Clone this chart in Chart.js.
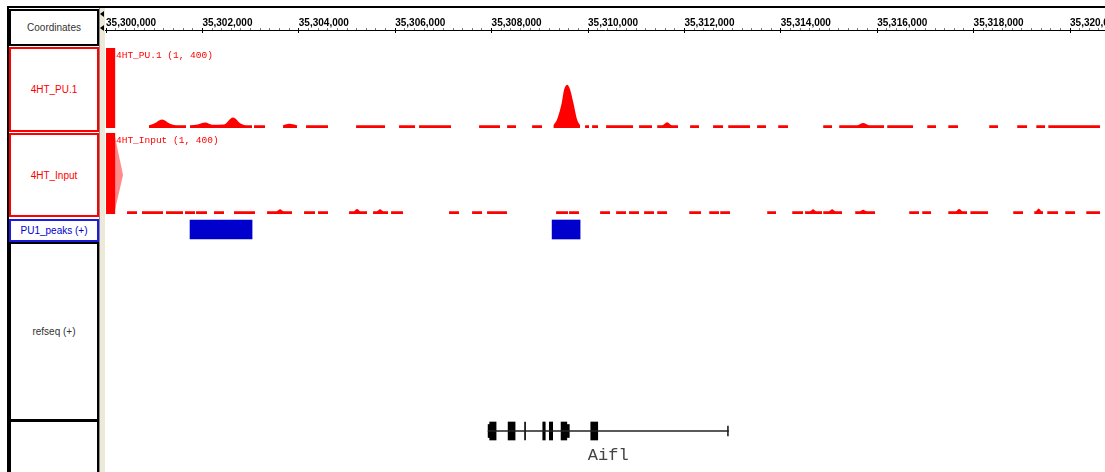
<!DOCTYPE html>
<html>
<head>
<meta charset="utf-8">
<script src="https://cdn.jsdelivr.net/npm/chart.js@4.4.0/dist/chart.umd.min.js"></script>
<style>
  html, body { margin: 0; padding: 0; background: #fff; }
  body { width: 1105px; height: 472px; position: relative; overflow: hidden;
         font-family: "Liberation Sans", Arial, sans-serif; }
  .abs { position: absolute; }
  .topline { left: 7px; top: 6px; width: 1098px; height: 2px; background: #000; }
  .leftline { left: 7px; top: 6px; width: 2px; height: 466px; background: #000; }
  .name { position: absolute; left: 9px; width: 90px; box-sizing: border-box;
          border: 2px solid #000; display: flex; align-items: center;
          justify-content: center; font-size: 10px; background: #fff; }
  .red { border-color: #ff0000; color: #ff0000; }
  .blue { border-color: #1a1ae0; color: #0000cc; }
  .dark { color: #333; }
  .strip { left: 99px; top: 8px; width: 6px; height: 464px; background: #ece9d8;
           border-left: 1px solid #8c8c8c; box-sizing: border-box; }
  .arrow { width: 0; height: 0; border-top: 3px solid transparent;
           border-bottom: 3px solid transparent; border-right: 4px solid #000; }
  canvas { position: absolute; left: 105px; }
</style>
</head>
<body>
<div class="abs topline"></div>
<div class="abs leftline"></div>

<div class="name dark" style="top:9px;height:37px;">Coordinates</div>
<div class="name red" style="top:47px;height:85px;">4HT_PU.1</div>
<div class="name red" style="top:133px;height:84px;">4HT_Input</div>
<div class="name blue" style="top:219px;height:23px;">PU1_peaks (+)</div>
<div class="name dark" style="top:242px;height:179px;">refseq (+)</div>
<div class="name dark" style="top:420px;height:60px;"></div>

<div class="abs strip"></div>
<div class="abs arrow" style="left:100px;top:11px;"></div>
<div class="abs arrow" style="left:100px;top:25px;"></div>

<canvas id="ruler" width="1000" height="25" style="top:8px;"></canvas>
<canvas id="pu1" width="1000" height="80" style="top:48px;"></canvas>
<canvas id="input" width="1000" height="81" style="top:133px;"></canvas>
<canvas id="peaks" width="1000" height="21" style="top:219px;"></canvas>
<canvas id="gene" width="1000" height="61" style="top:411px;"></canvas>

<script>
/* global Chart */

// visible window (bp)
const X_MIN = 35299979;
const X_MAX = 35320726;

// ruler
const rulerLabels = [35300000, 35302000, 35304000, 35306000, 35308000, 35310000,
                     35312000, 35314000, 35316000, 35318000, 35320000];
const RULER_MINOR = 200;

// coverage tracks, data range shown in the track title
const dataRange = [1, 400];

// 4HT_PU.1 coverage, null = no data
const pu1Pos = [
    35300000, 35300195, null,
    35300892, 35301000, 35301162, 35301330, 35301450, 35301660, null,
    35301743, 35301900, 35302054, 35302200, 35302450, 35302635, 35302800, 35302900, 35303030, null,
    35303071, 35303299, null,
    35303673, 35303800, 35303963, null,
    35304150, 35304607, null,
    35305188, 35305789, null,
    35306080, 35306412, null,
    35306495, 35307159, null,
    35307740, 35308176, null,
    35308321, 35308508, null,
    35308840, 35309047, null,
    35309281, 35309358, 35309456, 35309504, 35309572, 35309628, 35309696, 35309773, 35309836, null,
    35309939, 35310022, null,
    35310085, 35310209, null,
    35310375, 35310935, null,
    35311060, 35311330, null,
    35311434, 35311540, 35311641, 35311740, 35311870, null,
    35312118, 35312305, null,
    35312595, 35312803, null,
    35312907, 35313363, null,
    35313508, 35313695, null,
    35313944, 35314152, null,
    35314878, 35315065, null,
    35315210, 35315590, 35315708, 35315830, 35316144, null,
    35316206, 35316745, null,
    35317036, 35317223, null,
    35317472, 35317679, null,
    35318322, 35318509, null,
    35318903, 35319111, null,
    35319298, 35319485, null,
    35319547, 35320626
];
const pu1Val = [
    400, 400, null,
    15, 24, 44, 22, 15, 15, null,
    15, 18, 28, 17, 19, 53, 22, 15, 15, null,
    15, 15, null,
    15, 22, 15, null,
    15, 15, null,
    15, 15, null,
    15, 15, null,
    15, 15, null,
    15, 15, null,
    15, 15, null,
    15, 15, null,
    15, 44, 127, 193, 217, 193, 127, 44, 15, null,
    15, 15, null,
    15, 15, null,
    15, 15, null,
    15, 15, null,
    15, 15, 30, 15, 15, null,
    15, 15, null,
    15, 15, null,
    15, 15, null,
    15, 15, null,
    15, 15, null,
    15, 15, null,
    15, 15, 26, 15, 15, null,
    15, 15, null,
    15, 15, null,
    15, 15, null,
    15, 15, null,
    15, 15, null,
    15, 15, null,
    15, 15
];

// 4HT_Input coverage
const inputPos = [
    35300000, 35300195, null,
    35300436, 35300643, null,
    35300747, 35301183, null,
    35301245, 35301598, null,
    35301639, 35301847, null,
    35301868, 35302096, null,
    35302241, 35302449, null,
    35302656, 35303092, null,
    35303341, 35303540, 35303611, 35303680, 35303860, null,
    35304109, 35304337, null,
    35304399, 35304607, null,
    35305042, 35305140, 35305208, 35305280, 35305416, null,
    35305540, 35305620, 35305686, 35305750, 35305852, null,
    35305914, 35306163, null,
    35307117, 35307325, null,
    35307595, 35307802, null,
    35307906, 35308321, null,
    35309338, 35309587, null,
    35309607, 35309815, null,
    35310251, 35310458, null,
    35310583, 35310790, null,
    35310852, 35311060, null,
    35311164, 35311371, null,
    35311434, 35311641, null,
    35312098, 35312346, null,
    35312513, 35312720, null,
    35312741, 35312948, null,
    35313716, 35313903, null,
    35314235, 35314463, null,
    35314504, 35314610, 35314670, 35314730, 35314857, null,
    35314878, 35315000, 35315065, 35315130, 35315272, null,
    35315542, 35315640, 35315708, 35315780, 35315957, null,
    35316662, 35316870, null,
    35316932, 35317119, null,
    35317472, 35317630, 35317700, 35317770, 35317866, null,
    35317930, 35318301, null,
    35318820, 35319028, null,
    35319256, 35319290, 35319350, 35319410, 35319443, null,
    35319526, 35319754, null,
    35319899, 35320107, null,
    35320335, 35320626
];
const inputVal = [
    400, 400, null,
    15, 15, null,
    15, 15, null,
    15, 15, null,
    15, 15, null,
    15, 15, null,
    15, 15, null,
    15, 15, null,
    15, 15, 24, 15, 15, null,
    15, 15, null,
    15, 15, null,
    15, 15, 26, 15, 15, null,
    15, 15, 24, 15, 15, null,
    15, 15, null,
    15, 15, null,
    15, 15, null,
    15, 15, null,
    15, 15, null,
    15, 15, null,
    15, 15, null,
    15, 15, null,
    15, 15, null,
    15, 15, null,
    15, 15, null,
    15, 15, null,
    15, 15, null,
    15, 15, null,
    15, 15, null,
    15, 15, null,
    15, 15, 24, 15, 15, null,
    15, 15, 24, 15, 15, null,
    15, 15, 22, 15, 15, null,
    15, 15, null,
    15, 15, null,
    15, 15, 26, 15, 15, null,
    15, 15, null,
    15, 15, null,
    15, 15, 28, 15, 15, null,
    15, 15, null,
    15, 15, null,
    15, 15
];
// faded wedge next to the clipped input bar
const inputShadePos = [35300187, 35300353, 35300187];
const inputShadeVal = [380, 193, 21];

// PU1_peaks (+)
const peakStart = [35301743, 35309255];
const peakEnd = [35303030, 35309836];

// refseq (+)
const geneName = "Aifl";
const geneSpan = [35307927, 35312913];
const exonStart = [35307960, 35308342, 35308684, 35309061, 35309198, 35309441, 35310057];
const exonEnd = [35308093, 35308487, 35308704, 35309113, 35309267, 35309560, 35310202];
const utrStart = [35307927, 35309560];
const utrEnd = [35307960, 35309612];
const geneEndMark = [35312893, 35312913];

Chart.defaults.font.family = "'Liberation Sans', Arial, sans-serif";

function toPoints(pos, val)
{
    const pts = [];
    let last = X_MIN;
    for (let i = 0; i < pos.length; i++)
    {
        if (pos[i] === null)
        {
            pts.push({ x: last + 1, y: null });
        }
        else
        {
            pts.push({ x: pos[i], y: val[i] });
            last = pos[i];
        }
    }
    return pts;
}

function hiddenX()
{
    return { type: "linear", min: X_MIN, max: X_MAX, bounds: "data", display: false };
}

const baseOptions = {
    responsive: false,
    animation: false,
    events: [],
    layout: { padding: 0, autoPadding: false },
    plugins: { legend: { display: false }, tooltip: { enabled: false } }
};

const trackTitle = {
    id: "trackTitle",
    afterDraw(chart, args, opts)
    {
        const { ctx, chartArea } = chart;
        const y = chart.scales.y;
        ctx.save();
        ctx.font = "9.5px 'Liberation Mono', monospace";
        ctx.fillStyle = "#ff0000";
        ctx.textBaseline = "middle";
        ctx.fillText(opts.text + " (" + y.min + ", " + y.max + ")",
            chartArea.left + 11, chartArea.top + 7);
        ctx.restore();
    }
};

const geneLabel = {
    id: "geneLabel",
    afterDraw(chart, args, opts)
    {
        const { ctx, chartArea } = chart;
        const cx = chart.scales.x.getPixelForValue((geneSpan[0] + geneSpan[1]) / 2);
        ctx.save();
        ctx.font = "17px 'Liberation Mono', monospace";
        ctx.fillStyle = "#444";
        ctx.textAlign = "center";
        ctx.textBaseline = "middle";
        ctx.fillText(opts.text, cx, chartArea.bottom + 4);
        ctx.restore();
    }
};

const isMajor = (v) => rulerLabels.includes(v);

// ruler
new Chart(document.getElementById("ruler"), {
    type: "line",
    data: { datasets: [] },
    options: {
        ...baseOptions,
        scales: {
            x: {
                type: "linear",
                position: "top",
                min: X_MIN,
                max: X_MAX,
                bounds: "data",
                afterBuildTicks: (scale) =>
                {
                    const ticks = [];
                    for (let v = rulerLabels[0]; v <= X_MAX; v += RULER_MINOR)
                    {
                        ticks.push({ value: v });
                    }
                    scale.ticks = ticks;
                },
                afterFit: (scale) => { scale.height = 22; },
                ticks: {
                    autoSkip: false,
                    minRotation: 0,
                    maxRotation: 0,
                    align: "start",
                    padding: 0,
                    color: "#000",
                    font: { size: 10, weight: "bold", lineHeight: 1 },
                    callback: (v) => isMajor(v) ? v.toLocaleString("en-US") : ""
                },
                grid: {
                    drawOnChartArea: true,
                    tickLength: 2,
                    tickColor: (ctx) => ctx.tick && isMajor(ctx.tick.value) ? "#000" : "#777",
                    color: (ctx) => ctx.tick && isMajor(ctx.tick.value) ? "#000" : "rgba(0,0,0,0)"
                },
                border: { display: true, color: "#000", width: 1 }
            },
            y: { display: false }
        }
    }
});

function coverageChart(id, name, pos, val, extra)
{
    return new Chart(document.getElementById(id), {
        type: "line",
        data: {
            datasets: [{
                data: toPoints(pos, val),
                backgroundColor: "#ff0000",
                borderWidth: 0,
                pointRadius: 0,
                fill: "origin",
                spanGaps: false,
                cubicInterpolationMode: "monotone"
            }].concat(extra || [])
        },
        options: {
            ...baseOptions,
            plugins: { ...baseOptions.plugins, trackTitle: { text: name } },
            scales: {
                x: hiddenX(),
                y: { min: dataRange[0], max: dataRange[1], display: false }
            }
        },
        plugins: [trackTitle]
    });
}

coverageChart("pu1", "4HT_PU.1", pu1Pos, pu1Val);

coverageChart("input", "4HT_Input", inputPos, inputVal, [{
    data: toPoints(inputShadePos, inputShadeVal),
    backgroundColor: "#ff8c8c",
    borderWidth: 0,
    pointRadius: 0,
    fill: "shape",
    order: 1
}]);

// peaks
new Chart(document.getElementById("peaks"), {
    type: "bar",
    data: {
        labels: ["PU1_peaks"],
        datasets: [{
            data: peakStart.map((s, i) => ({ x: [s, peakEnd[i]], y: "PU1_peaks" })),
            backgroundColor: "#0000cc",
            borderWidth: 0,
            barThickness: 19
        }]
    },
    options: {
        ...baseOptions,
        indexAxis: "y",
        scales: { x: hiddenX(), y: { display: false } }
    }
});

// gene model
function geneBars(starts, ends, thickness, color)
{
    return {
        data: starts.map((s, i) => ({ x: [s, ends[i]], y: geneName })),
        backgroundColor: color,
        borderWidth: 0,
        barThickness: thickness,
        grouped: false
    };
}

new Chart(document.getElementById("gene"), {
    type: "bar",
    data: {
        labels: [geneName],
        datasets: [
            geneBars([geneSpan[0]], [geneSpan[1]], 1, "#222"),
            geneBars([geneEndMark[0]], [geneEndMark[1]], 10, "#222"),
            geneBars(utrStart, utrEnd, 13, "#000"),
            geneBars(exonStart, exonEnd, 18, "#000")
        ]
    },
    options: {
        ...baseOptions,
        indexAxis: "y",
        layout: { padding: { bottom: 21 }, autoPadding: false },
        plugins: { ...baseOptions.plugins, geneLabel: { text: geneName } },
        scales: { x: hiddenX(), y: { display: false } }
    },
    plugins: [geneLabel]
});
</script>
</body>
</html>
